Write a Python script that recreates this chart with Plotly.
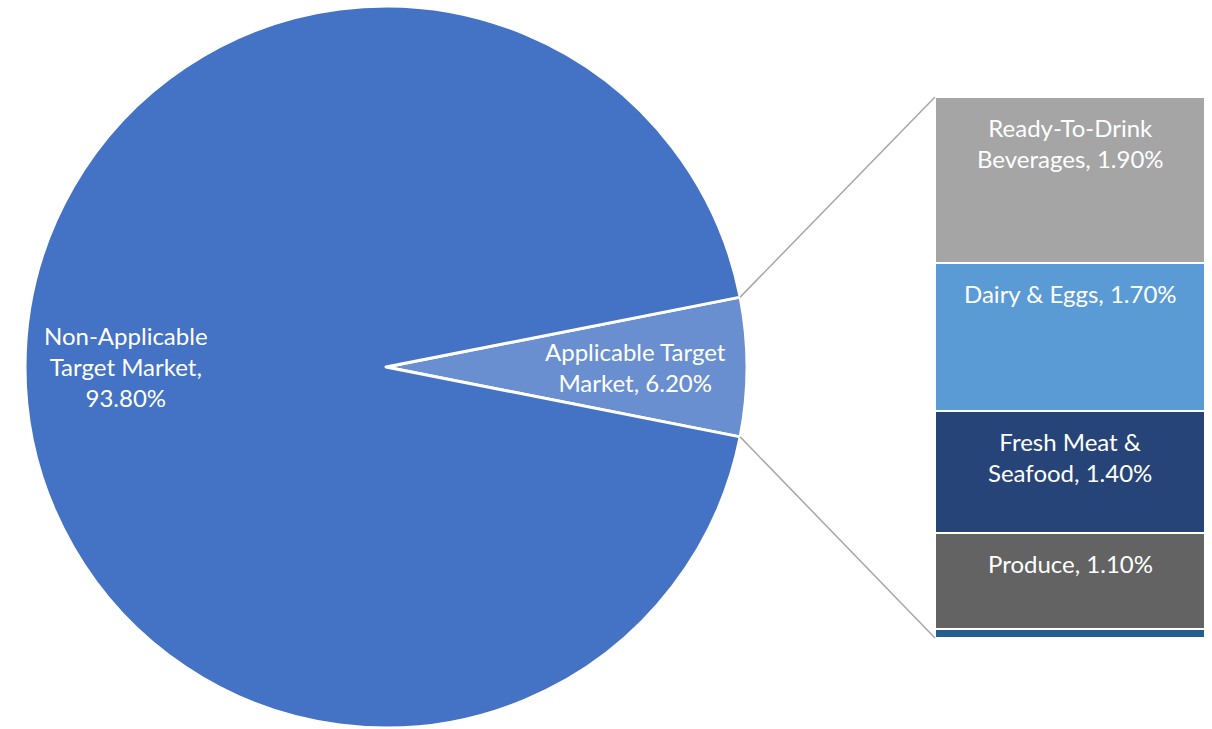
import math
import plotly.graph_objects as go

# pie data
pie_labels = ['Applicable Target Market', 'Non-Applicable Target Market']
pie_values = [6.2, 93.8]
pie_colors = ['#6A8FD0', '#4472C4']
pie_texts = ['Applicable Target<br>Market, 6.20%',
             'Non-Applicable<br>Target Market,<br>93.80%']

# bar (breakdown of applicable slice), bottom to top
bar_labels = ['Other', 'Produce', 'Fresh Meat &<br>Seafood', 'Dairy & Eggs', 'Ready-To-Drink<br>Beverages']
bar_values = [0.1, 1.1, 1.4, 1.7, 1.9]
bar_colors = ['#255E91', '#636363', '#264478', '#5B9BD5', '#A5A5A5']
bar_show_label = [False, True, True, True, True]

W, H = 1212, 729
FONT = 'Lato'
FSIZE = 24

pie_dom_x = [25 / W, 747 / W]
pie_dom_y = [1 / H, 723 / H]
bar_dom_x = [935 / W, 1205 / W]
bar_dom_y = [(H - 638) / H, (H - 97) / H]

fig = go.Figure()

half_angle = 360 * pie_values[0] / sum(pie_values) / 2
fig.add_trace(go.Pie(
    labels=pie_labels,
    values=pie_values,
    sort=False,
    direction='clockwise',
    rotation=90 - half_angle,
    marker=dict(colors=pie_colors, line=dict(color='white', width=3)),
    textinfo='none',
    hoverinfo='label+value',
    domain=dict(x=pie_dom_x, y=pie_dom_y),
    showlegend=False,
))

top = 0
for name, val, col, show in zip(bar_labels, bar_values, bar_colors, bar_show_label):
    fig.add_trace(go.Bar(
        x=[0], y=[val], name=name.replace('<br>', ' '),
        marker=dict(color=col, line=dict(color='white', width=2)),
        width=1,
        hoverinfo='name+y',
        showlegend=False,
    ))
    top += val
    if show:
        # label sits near the top of its segment
        fig.add_annotation(x=0, y=top, xref='x', yref='y',
                           text=f'{name}, {val:.2f}%', showarrow=False,
                           xanchor='center', yanchor='top', yshift=-14,
                           font=dict(color='white', size=FSIZE, family=FONT))

# pie labels placed along slice mid-angles
cx_px = (pie_dom_x[0] + pie_dom_x[1]) / 2 * W
cy_px = (1 - (pie_dom_y[0] + pie_dom_y[1]) / 2) * H
R = min((pie_dom_x[1] - pie_dom_x[0]) * W, (pie_dom_y[1] - pie_dom_y[0]) * H) / 2

for txt, ang, rf in zip(pie_texts, [0, 180], [0.69, 0.72]):
    px_ = cx_px + rf * R * math.cos(math.radians(ang))
    py_ = cy_px - rf * R * math.sin(math.radians(ang))
    fig.add_annotation(x=px_ / W, y=1 - py_ / H, xref='paper', yref='paper',
                       text=txt, showarrow=False,
                       xanchor='center', yanchor='middle',
                       font=dict(color='white', size=FSIZE, family=FONT))

# connector lines from slice edges to bar corners
for sgn, by in [(1, bar_dom_y[1]), (-1, bar_dom_y[0])]:
    ex = cx_px + R * math.cos(math.radians(half_angle))
    ey = cy_px - sgn * R * math.sin(math.radians(half_angle))
    fig.add_shape(type='line', xref='paper', yref='paper',
                  x0=ex / W, y0=1 - ey / H, x1=bar_dom_x[0], y1=by,
                  line=dict(color='#A6A6A6', width=1.5))

fig.update_layout(
    width=W, height=H,
    margin=dict(l=0, r=0, t=0, b=0),
    paper_bgcolor='white', plot_bgcolor='white',
    barmode='stack', bargap=0,
    xaxis=dict(domain=bar_dom_x, range=[-0.5, 0.5], visible=False, fixedrange=True),
    yaxis=dict(domain=bar_dom_y, range=[0, sum(bar_values)], visible=False, fixedrange=True),
    font=dict(family=FONT),
)

fig.write_html('out.html', config={'displayModeBar': False},
               post_script="document.body.style.margin='0px';")
